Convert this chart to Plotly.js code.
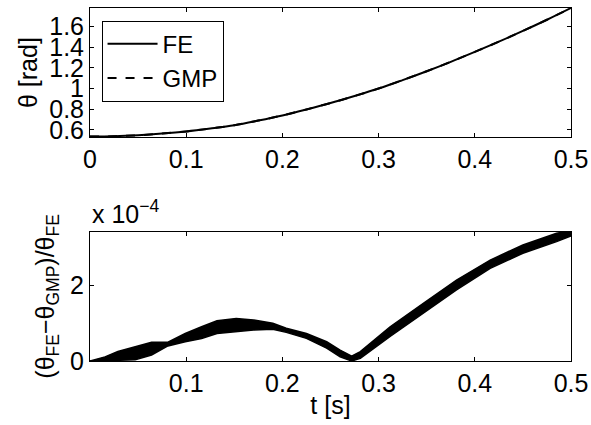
<!DOCTYPE html>
<html>
<head>
<meta charset="utf-8">
<script src="https://cdn.plot.ly/plotly-3.0.1.min.js"></script>
<style>html,body{margin:0;padding:0;background:#fff;}#chart{width:591px;height:425px;}</style>
</head>
<body>
<div id="chart"></div>
<script>
// Top panel: theta [rad] vs t [s]
var tTop = [0, 0.025, 0.05, 0.075, 0.1, 0.125, 0.15, 0.175, 0.2, 0.225, 0.25, 0.275, 0.3, 0.325, 0.35, 0.375, 0.4, 0.425, 0.45, 0.475, 0.5];
var thetaFE = [0.535, 0.538, 0.548, 0.564, 0.585, 0.613, 0.645, 0.69, 0.740, 0.798, 0.860, 0.928, 1.0, 1.082, 1.168, 1.259, 1.355, 1.454, 1.558, 1.666, 1.78];
var thetaGMP = [0.535, 0.538, 0.548, 0.564, 0.585, 0.613, 0.645, 0.69, 0.740, 0.798, 0.860, 0.928, 1.0, 1.082, 1.168, 1.259, 1.355, 1.454, 1.558, 1.666, 1.78];

// Bottom panel: relative error (units of 1e-4), oscillating band envelopes
var tBot = [0, 0.0156, 0.029, 0.047, 0.064, 0.081, 0.099, 0.116, 0.132, 0.152, 0.17, 0.19, 0.204, 0.225, 0.246, 0.26, 0.272, 0.281, 0.312, 0.3465, 0.381, 0.416, 0.45, 0.485, 0.5];
var errUpper = [0, 0.11, 0.25, 0.38, 0.5, 0.5, 0.73, 0.91, 1.07, 1.13, 1.09, 1.0, 0.87, 0.73, 0.51, 0.29, 0.13, 0.25, 0.91, 1.53, 2.15, 2.68, 3.08, 3.39, 3.46];
var errLower = [0, 0.01, 0.03, 0.03, 0.16, 0.4, 0.51, 0.6, 0.73, 0.78, 0.82, 0.84, 0.76, 0.6, 0.34, 0.11, 0.0, 0.07, 0.65, 1.27, 1.89, 2.46, 2.86, 3.17, 3.32];

var topTicks = [0, 0.1, 0.2, 0.3, 0.4, 0.5];
var topTickText = ['0', '0.1', '0.2', '0.3', '0.4', '0.5'];
var botTicks = [0.1, 0.2, 0.3, 0.4, 0.5];
var botTickText = ['0.1', '0.2', '0.3', '0.4', '0.5'];
var yTopTicks = [0.6, 0.8, 1.0, 1.2, 1.4, 1.6];
var yTopText = ['0.6', '0.8', '1', '1.2', '1.4', '1.6'];
var yBotTicks = [0, 2];
var yBotText = ['0', '2'];

var FONT = 'Liberation Sans, Arial, Helvetica, sans-serif';
var FS = 25;

var traces = [
  {x: tTop, y: thetaFE, name: 'FE', type: 'scatter', mode: 'lines', xaxis: 'x', yaxis: 'y',
   line: {color: 'black', width: 2, shape: 'spline'}},
  {x: tTop, y: thetaGMP, name: 'GMP', type: 'scatter', mode: 'lines', xaxis: 'x', yaxis: 'y',
   line: {color: 'black', width: 2, dash: 'dash', shape: 'spline'}},
  {x: tBot, y: errLower, type: 'scatter', mode: 'lines', xaxis: 'x2', yaxis: 'y2', showlegend: false,
   line: {color: 'black', width: 1.5}},
  {x: tBot, y: errUpper, type: 'scatter', mode: 'lines', xaxis: 'x2', yaxis: 'y2', showlegend: false,
   fill: 'tonexty', fillcolor: 'black', line: {color: 'black', width: 1.5}}
];

function axBase() {
  return {showline: true, linecolor: 'black', linewidth: 1, mirror: 'ticks', ticks: 'inside',
          ticklen: 4, tickcolor: 'black', showgrid: false, zeroline: false,
          tickfont: {family: FONT, size: FS, color: 'black'}};
}

var xa = Object.assign(axBase(), {domain: [0, 1], anchor: 'y', range: [0, 0.5], tickmode: 'array',
  tickvals: topTicks, ticktext: topTickText});
var ya = Object.assign(axBase(), {domain: [0.634, 1], anchor: 'x', range: [0.529, 1.78], tickmode: 'array',
  tickvals: yTopTicks, ticktext: yTopText,
  title: {text: 'θ [rad]', font: {family: FONT, size: FS, color: 'black'}, standoff: 4}});
var xa2 = Object.assign(axBase(), {domain: [0, 1], anchor: 'y2', range: [0, 0.5], tickmode: 'array',
  tickvals: botTicks, ticktext: botTickText,
  title: {text: 't [s]', font: {family: FONT, size: FS, color: 'black'}, standoff: 0}});
var ya2 = Object.assign(axBase(), {domain: [0, 0.366], anchor: 'x2', range: [0, 3.43], tickmode: 'array',
  tickvals: yBotTicks, ticktext: yBotText,
  title: {text: '(θ<sub>FE</sub>−θ<sub>GMP</sub>)/θ<sub>FE</sub>', font: {family: FONT, size: FS, color: 'black'}, standoff: 8}});

var layout = {
  width: 591, height: 425,
  margin: {l: 90, r: 20, t: 8, b: 64},
  paper_bgcolor: 'white', plot_bgcolor: 'white',
  font: {family: FONT, size: FS, color: 'black'},
  showlegend: true,
  legend: {x: 0.024, y: 0.964, xanchor: 'left', yanchor: 'top', bgcolor: 'white',
           bordercolor: 'black', borderwidth: 1, traceorder: 'normal', tracegroupgap: 0,
           font: {family: FONT, size: 24, color: 'black'}, itemwidth: 50},
  xaxis: xa, yaxis: ya, xaxis2: xa2, yaxis2: ya2,
  annotations: [{
    text: 'x 10<sup>−4</sup>', xref: 'paper', yref: 'paper', x: 0, y: 0.372,
    xanchor: 'left', yanchor: 'bottom', showarrow: false,
    font: {family: FONT, size: FS, color: 'black'}
  }]
};

Plotly.newPlot('chart', traces, layout, {staticPlot: true, displayModeBar: false});
</script>
</body>
</html>
